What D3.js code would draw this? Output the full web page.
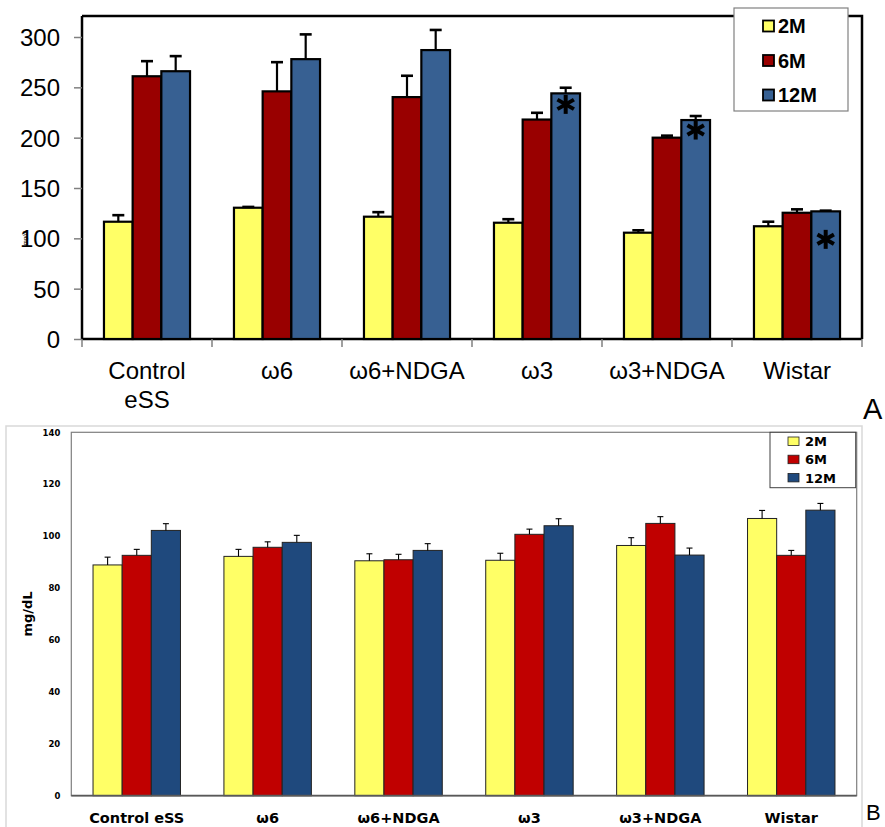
<!DOCTYPE html>
<html>
<head>
<meta charset="utf-8">
<script src="https://cdn.jsdelivr.net/npm/d3@7"></script>
<style>
  html, body { margin: 0; padding: 0; background: #ffffff; }
  svg { display: block; }
</style>
</head>
<body>
<svg id="fig" width="885" height="827"></svg>
<script>
// ---- Panel A data ----
const groupsA = [["Control", "eSS"], ["ω6"], ["ω6+NDGA"], ["ω3"], ["ω3+NDGA"], ["Wistar"]];
const seriesNames = ["2M", "6M", "12M"];
const a2M = [116.5, 130.4, 121.5, 115.5, 105.6, 112];
const a6M = [261, 246, 240.3, 218, 200, 125.4];
const a12M = [266, 278, 287, 244, 217.5, 126.8];
const a2MErr = [6.5, 0.8, 4.5, 3.5, 2.4, 4.5];
const a6MErr = [15, 29, 21.2, 6.7, 2, 3.4];
const a12MErr = [15, 24.6, 20, 5.6, 4, 0.7];
const a12MStar = [false, false, false, true, true, true];
const ticksA = [0, 50, 100, 150, 200, 250, 300];

// ---- Panel B data ----
const groupsB = ["Control eSS", "ω6", "ω6+NDGA", "ω3", "ω3+NDGA", "Wistar"];
const b2M = [88.9, 92.2, 90.5, 90.7, 96.4, 106.8];
const b6M = [92.6, 95.7, 90.9, 100.7, 104.9, 92.6];
const b12M = [102.2, 97.6, 94.5, 104, 92.7, 110];
const b2MErr = [3, 2.7, 2.7, 2.7, 3, 3.1];
const b6MErr = [2.3, 2.1, 2.1, 2, 2.6, 1.9];
const b12MErr = [2.6, 2.7, 2.6, 2.7, 2.7, 2.6];
const ticksB = [0, 20, 40, 60, 80, 100, 120, 140];

const svg = d3.select("#fig");

// ================= Panel A =================
(function () {
  const colors = ["#FFFF66", "#990000", "#376092"];
  const L = 82, R = 862, T = 16, B = 339;
  const g = svg.append("g");
  const keys = groupsA.map(d => d.join(" "));
  const x = d3.scaleBand().domain(keys).range([L, R]).paddingInner(0.338).paddingOuter(0.169);
  const xs = d3.scaleBand().domain(seriesNames).range([0, x.bandwidth()]);
  const y = d3.scaleLinear().domain([0, 300]).range([B, 37]);

  const means = [a2M, a6M, a12M];
  const errs = [a2MErr, a6MErr, a12MErr];
  const rows = [];
  keys.forEach((k, i) => seriesNames.forEach((s, j) => rows.push({
    k, s, j, v: means[j][i], e: errs[j][i], star: j === 2 && a12MStar[i], i
  })));

  // frame: top and right border
  g.append("path").attr("d", `M${L},${T}H${R}V${B}`).attr("fill", "none")
    .attr("stroke", "#000").attr("stroke-width", 2.5);

  // y axis
  const yAxis = g.append("g").attr("transform", `translate(${L},0)`)
    .call(d3.axisLeft(y).tickValues(ticksA).tickSize(8).tickPadding(14));
  yAxis.select(".domain").attr("stroke", "#000").attr("stroke-width", 2.5)
    .attr("d", `M0,${T}V${B}`);
  yAxis.selectAll(".tick line").attr("stroke", "#808080").attr("stroke-width", 1.5);
  yAxis.selectAll(".tick text").attr("font-family", "Liberation Sans, Arial, sans-serif")
    .attr("font-size", 24).attr("fill", "#000").attr("dy", "0.36em");

  // x axis with ticks at category boundaries
  g.append("line").attr("x1", L).attr("x2", R).attr("y1", B).attr("y2", B)
    .attr("stroke", "#000").attr("stroke-width", 2.5);
  const bounds = keys.map(k => x(k) - x.step() * x.paddingOuter()).concat([R]);
  g.selectAll(".xt").data(bounds).join("line")
    .attr("x1", d => d).attr("x2", d => d).attr("y1", B).attr("y2", B + 8)
    .attr("stroke", "#808080").attr("stroke-width", 1.5);

  // category labels
  g.selectAll(".xl").data(groupsA).join("text")
    .attr("x", (d, i) => x(keys[i]) + x.bandwidth() / 2)
    .attr("y", 379)
    .attr("text-anchor", "middle")
    .attr("font-family", "Liberation Sans, Arial, sans-serif")
    .attr("font-size", 24)
    .each(function (d) {
      d3.select(this).selectAll("tspan").data(d).join("tspan")
        .attr("x", d3.select(this).attr("x"))
        .attr("dy", (t, k) => k === 0 ? 0 : 29)
        .text(t => t);
    });

  // bars
  g.selectAll(".bar").data(rows).join("rect")
    .attr("x", d => x(d.k) + xs(d.s))
    .attr("y", d => y(d.v))
    .attr("width", xs.bandwidth())
    .attr("height", d => y(0) - y(d.v))
    .attr("fill", d => colors[d.j])
    .attr("stroke", "#000").attr("stroke-width", 2.2);

  // error bars (upper only)
  const eb = g.selectAll(".err").data(rows).join("g");
  eb.append("line")
    .attr("x1", d => x(d.k) + xs(d.s) + xs.bandwidth() / 2)
    .attr("x2", d => x(d.k) + xs(d.s) + xs.bandwidth() / 2)
    .attr("y1", d => y(d.v)).attr("y2", d => y(d.v + d.e))
    .attr("stroke", "#000").attr("stroke-width", 2.2);
  eb.append("line")
    .attr("x1", d => x(d.k) + xs(d.s) + xs.bandwidth() / 2 - 6)
    .attr("x2", d => x(d.k) + xs(d.s) + xs.bandwidth() / 2 + 6)
    .attr("y1", d => y(d.v + d.e)).attr("y2", d => y(d.v + d.e))
    .attr("stroke", "#000").attr("stroke-width", 2.6);

  // significance asterisks on 12M bars
  const starDrop = { 3: 11, 4: 10, 5: 28 };
  const star = g.selectAll(".star").data(rows.filter(d => d.star)).join("g")
    .attr("transform", d => `translate(${x(d.k) + xs(d.s) + xs.bandwidth() / 2},${y(d.v) + starDrop[d.i]})`);
  [90, 30, 150].forEach(a => {
    star.append("line")
      .attr("x1", 9.5 * Math.cos(a * Math.PI / 180)).attr("y1", -9.5 * Math.sin(a * Math.PI / 180))
      .attr("x2", -9.5 * Math.cos(a * Math.PI / 180)).attr("y2", 9.5 * Math.sin(a * Math.PI / 180))
      .attr("stroke", "#000").attr("stroke-width", 4);
  });

  // tiny y-axis title
  g.append("text").attr("transform", "translate(27,238) rotate(-90)")
    .attr("text-anchor", "middle").attr("font-family", "Liberation Sans, Arial, sans-serif")
    .attr("font-size", 6).text("mg/dl");

  // legend
  const lg = g.append("g");
  lg.append("rect").attr("x", 734).attr("y", 8).attr("width", 114).attr("height", 103)
    .attr("fill", "#fff").attr("stroke", "#808080").attr("stroke-width", 1.2);
  const li = lg.selectAll(".li").data(seriesNames).join("g")
    .attr("transform", (d, j) => `translate(0,${26 + j * 34.5})`);
  li.append("rect").attr("x", 763).attr("y", -5.5).attr("width", 11).attr("height", 11)
    .attr("fill", (d, j) => colors[j]).attr("stroke", "#000").attr("stroke-width", 1.8);
  li.append("text").attr("x", 778).attr("y", 0).attr("dy", "0.36em")
    .attr("font-family", "Liberation Sans, Arial, sans-serif").attr("font-weight", "bold")
    .attr("font-size", 20).text(d => d);

  g.append("text").attr("x", 863).attr("y", 419)
    .attr("font-family", "Liberation Sans, Arial, sans-serif").attr("font-size", 29).text("A");
})();

// ================= Panel B =================
(function () {
  const colors = ["#FFFF66", "#C00000", "#1F497D"];
  const L = 71.3, R = 856.7, T = 432.3, B = 795.7;
  const font = "DejaVu Sans, Verdana, sans-serif";
  const g = svg.append("g");

  // chart area outline
  g.append("path").attr("d", "M6,840V426H862V840").attr("fill", "none")
    .attr("stroke", "#D9D9D9").attr("stroke-width", 1.5);

  const x = d3.scaleBand().domain(groupsB).range([L, R]).paddingInner(0.332).paddingOuter(0.166);
  const xs = d3.scaleBand().domain(seriesNames).range([0, x.bandwidth()]);
  const y = d3.scaleLinear().domain([0, 140]).range([B, T]);

  const means = [b2M, b6M, b12M];
  const errs = [b2MErr, b6MErr, b12MErr];
  const rows = [];
  groupsB.forEach((k, i) => seriesNames.forEach((s, j) => rows.push({ k, s, j, v: means[j][i], e: errs[j][i] })));

  // plot-area border
  g.append("rect").attr("x", L).attr("y", T).attr("width", R - L).attr("height", B - T)
    .attr("fill", "none").attr("stroke", "#7F7F7F").attr("stroke-width", 1.2);

  // y axis labels
  const yAxis = g.append("g").attr("transform", `translate(${L},0)`)
    .call(d3.axisLeft(y).tickValues(ticksB).tickSize(0).tickPadding(11));
  yAxis.select(".domain").remove();
  yAxis.selectAll(".tick text").attr("font-family", font).attr("font-weight", "bold")
    .attr("font-size", 8.5).attr("fill", "#000");

  g.append("text").attr("transform", `translate(32,614) rotate(-90)`)
    .attr("text-anchor", "middle").attr("font-family", font).attr("font-weight", "bold")
    .attr("font-size", 13).text("mg/dL");

  // bars
  g.selectAll(".bar").data(rows).join("rect")
    .attr("x", d => x(d.k) + xs(d.s))
    .attr("y", d => y(d.v))
    .attr("width", xs.bandwidth())
    .attr("height", d => y(0) - y(d.v))
    .attr("fill", d => colors[d.j])
    .attr("stroke", "#222").attr("stroke-width", 1);

  // baseline
  g.append("line").attr("x1", L).attr("x2", R).attr("y1", B).attr("y2", B)
    .attr("stroke", "#595959").attr("stroke-width", 1.8);

  // error bars (upper only)
  const eb = g.selectAll(".err").data(rows).join("g");
  eb.append("line")
    .attr("x1", d => x(d.k) + xs(d.s) + xs.bandwidth() / 2)
    .attr("x2", d => x(d.k) + xs(d.s) + xs.bandwidth() / 2)
    .attr("y1", d => y(d.v)).attr("y2", d => y(d.v + d.e))
    .attr("stroke", "#000").attr("stroke-width", 1.1);
  eb.append("line")
    .attr("x1", d => x(d.k) + xs(d.s) + xs.bandwidth() / 2 - 3)
    .attr("x2", d => x(d.k) + xs(d.s) + xs.bandwidth() / 2 + 3)
    .attr("y1", d => y(d.v + d.e)).attr("y2", d => y(d.v + d.e))
    .attr("stroke", "#000").attr("stroke-width", 1.1);

  // category labels
  g.selectAll(".xl").data(groupsB).join("text")
    .attr("x", d => x(d) + x.bandwidth() / 2).attr("y", 823)
    .attr("text-anchor", "middle").attr("font-family", font).attr("font-weight", "bold")
    .attr("font-size", 14.5).text(d => d);

  // legend
  const lg = g.append("g");
  lg.append("rect").attr("x", 770).attr("y", 432.3).attr("width", 85.7).attr("height", 55.4)
    .attr("fill", "#fff").attr("stroke", "#404040").attr("stroke-width", 1);
  const li = lg.selectAll(".li").data(seriesNames).join("g")
    .attr("transform", (d, j) => `translate(0,${441.5 + j * 18.2})`);
  li.append("rect").attr("x", 788).attr("y", -4.5).attr("width", 11).attr("height", 8.5)
    .attr("fill", (d, j) => colors[j]).attr("stroke", "#222").attr("stroke-width", 0.8);
  li.append("text").attr("x", 805).attr("y", 0).attr("dy", "0.36em")
    .attr("font-family", font).attr("font-weight", "bold").attr("font-size", 13).text(d => d);

  g.append("text").attr("x", 866).attr("y", 820)
    .attr("font-family", "Liberation Sans, Arial, sans-serif").attr("font-size", 22).text("B");
})();
</script>
</body>
</html>
